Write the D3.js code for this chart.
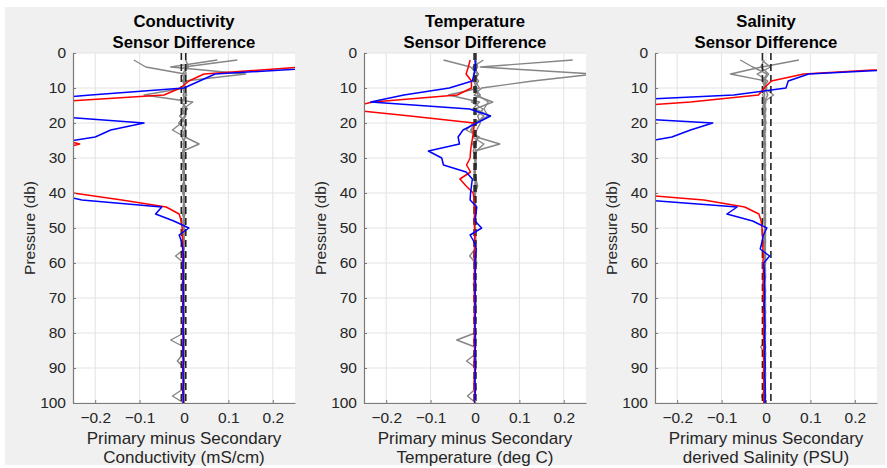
<!DOCTYPE html>
<html><head><meta charset="utf-8">
<script src="https://cdn.jsdelivr.net/npm/d3@7"></script>
<style>
body{margin:0;background:#fff;}
text{font-family:"Liberation Sans", Arial, Helvetica, sans-serif;}
</style>
</head><body>
<svg id="c" width="887" height="468"></svg>
<script>
// ---------- data ----------
const pressure = [2,4,6,8,10,12,14,16,18,20,22,24,26,28,30,32,34,36,38,40,42,44,46,48,50,52,54,56,58,60,62,64,66,68,70,72,74,76,78,80,82,84,86,88,90,92,94,96,98,100];
const xTicks = [-0.2,-0.1,0,0.1,0.2];
const yTicks = [0,10,20,30,40,50,60,70,80,90,100];
const titles = [["Conductivity","Sensor Difference"],["Temperature","Sensor Difference"],["Salinity","Sensor Difference"]];
const xLabels = [["Primary minus Secondary","Conductivity (mS/cm)"],["Primary minus Secondary","Temperature (deg C)"],["Primary minus Secondary","derived Salinity (PSU)"]];
const yLabel = "Pressure (db)";

// Conductivity
const condRed = [null,0.27,0.045,0.011,-0.008, -0.045,-0.3,-0.4,-0.4,-0.4, -0.4,-0.3,-0.235,-0.3,-0.4, -0.4,-0.4,-0.4,-0.4,-0.25, -0.14,-0.04,-0.011,-0.006,-0.004, -0.004,-0.003,-0.002,-0.003,-0.002, -0.003,-0.002,-0.003,-0.002,-0.002, -0.003,-0.002,-0.002,-0.003,-0.002, -0.002,-0.003,-0.002,-0.002,-0.003, -0.002,-0.002,-0.003,-0.002,-0.002];
const condBlue = [null,0.33,0.07,0.035,0.0, -0.21,-0.4,-0.4,-0.3,-0.09, -0.165,-0.2,-0.3,-0.4,-0.4, -0.4,-0.4,-0.4,-0.4,-0.3, -0.23,-0.05,-0.064,-0.023,0.011, -0.011,-0.005,-0.003,-0.001,-0.002, -0.002,-0.001,-0.002,-0.002,-0.001, -0.002,-0.002,-0.001,-0.002,-0.002, -0.001,-0.002,-0.002,-0.001,-0.002, -0.002,-0.001,-0.002,-0.002,-0.001];
const condGray1 = [-0.113,-0.086,0.002,-0.002,0.001, -0.09,0.02,-0.003,0.004,-0.006, -0.026,0.002,0.034,-0.002,0.0, -0.003,0.001,-0.002,0.003,-0.001, 0.0,-0.002,0.001,-0.002,0.0, -0.001,-0.002,0.001,-0.019,0.0, -0.002,0.001,-0.005,0.0,-0.002, 0.001,-0.001,0.0,-0.002,0.0, -0.03,0.0,-0.002,-0.015,0.0, -0.001,0.0,-0.002,-0.026,0.0];
const condGray2 = [0.075,-0.03,0.139,0.002,-0.003, 0.003,-0.004,0.004,-0.008,0.002, -0.004,0.003,-0.002,0.001,-0.003, 0.0,-0.002,0.002,-0.004,0.001, -0.002,0.0,0.002,-0.001,0.001, -0.002,0.0,-0.001,0.002,-0.001, 0.0,-0.003,0.001,-0.001,0.0, -0.002,0.001,0.0,-0.001,0.001, -0.002,0.0,0.001,-0.002,0.0, 0.001,-0.001,0.0,0.002,-0.001];
const condGray3 = [0.12,0.0,0.005,-0.003,0.004, -0.002,0.004,-0.005,0.002,-0.012, 0.004,-0.004,0.001,-0.003,0.002, -0.002,0.0,0.001,-0.003,0.001, -0.001,0.002,-0.002,0.0,0.001, -0.001,0.0,-0.002,0.001,0.0, -0.001,0.001,-0.002,0.0,0.001, -0.001,0.0,0.001,-0.002,0.0, 0.001,-0.001,0.0,0.001,-0.001, 0.0,0.001,-0.001,0.0,0.001];
const condGray4 = [0.004,0.01,-0.004,0.003,0.0, 0.006,-0.006,0.008,-0.01,0.005, 0.002,-0.005,0.003,0.0,-0.004, 0.002,-0.003,0.001,0.0,-0.003, 0.002,-0.001,-0.003,0.001,-0.002, 0.0,0.001,-0.003,0.0,-0.002, 0.001,-0.002,0.0,0.001,-0.003, 0.0,-0.001,0.001,-0.002,0.0, -0.001,0.001,-0.003,0.0,-0.002, 0.001,-0.002,0.0,-0.001,0.0];
const condLimits = [-0.006, 0.004];

// Temperature
const tempRed = [-0.011,-0.015,-0.02,-0.008,-0.008, -0.04,-0.23,-0.3,-0.146,-0.002, -0.003,-0.005,-0.008,-0.01,-0.011, -0.019,-0.01,-0.034,-0.02,-0.004, -0.002,-0.002,-0.001,-0.002,-0.001, 0.0,-0.002,-0.001,-0.002,-0.001, -0.001,-0.002,-0.001,-0.001,-0.002, -0.001,-0.001,-0.002,-0.001,-0.001, -0.002,-0.001,-0.001,-0.002,-0.001, -0.001,-0.002,-0.001,-0.001,-0.001];
const tempBlue = [0.0,0.001,-0.002,-0.006,-0.058, -0.16,-0.235,-0.012,0.035,0.004, -0.027,-0.038,-0.035,-0.105,-0.075, -0.071,-0.02,-0.006,-0.008,-0.01, -0.011,0.004,0.002,0.0,0.015, -0.011,-0.002,0.003,0.001,0.0, 0.001,0.0,0.001,0.0,0.001, 0.0,0.001,0.0,0.0,0.001, 0.0,0.001,0.0,0.0,0.001, 0.0,0.0,0.001,0.0,0.0];
const tempGray1 = [0.22,0.012,0.27,0.13,0.015, -0.002,0.04,0.0,0.034,0.0, -0.01,0.003,0.056,0.0,0.002, -0.001,0.001,0.0,0.002,-0.001, 0.001,0.0,-0.001,0.001,0.0, -0.001,0.001,0.0,-0.012,0.001, 0.0,0.002,-0.004,0.001,0.0, 0.003,-0.001,0.0,0.001,0.0, -0.041,0.0,0.001,-0.019,0.002, 0.0,-0.001,0.001,-0.017,0.002];
const tempGray2 = [-0.071,-0.01,0.005,0.0,0.01, -0.06,0.01,-0.005,0.02,0.004, -0.008,0.005,0.002,-0.004,0.003, 0.001,-0.002,0.002,0.006,0.001, 0.0,0.002,-0.001,0.001,0.0, 0.002,0.001,-0.001,0.002,0.004, 0.0,0.001,0.002,0.0,-0.001, 0.001,0.0,0.002,0.0,0.001, 0.002,0.0,0.001,0.003,0.0, 0.001,0.0,0.002,0.0,0.001];
const tempGray3 = [0.019,-0.005,0.008,-0.003,0.004, 0.006,0.03,0.02,0.03,-0.004, -0.02,0.01,-0.006,0.004,-0.002, 0.003,0.0,0.002,-0.001,0.001, 0.0,-0.001,0.002,0.0,0.001, -0.001,0.0,0.001,-0.002,0.0, 0.001,-0.001,0.0,0.001,0.0, -0.001,0.001,0.0,-0.001,0.001, 0.0,0.001,-0.002,0.0,0.001, 0.0,-0.001,0.001,0.0,0.001];
const tempGray4 = [0.002,0.006,-0.004,0.008,-0.003, 0.012,-0.008,0.018,0.006,0.012, 0.004,-0.006,0.02,0.003,0.0, 0.002,-0.002,0.001,0.003,0.0, -0.001,0.002,0.0,-0.002,0.001, 0.0,0.002,-0.001,0.0,0.002, -0.001,0.0,0.001,-0.002,0.001, 0.0,0.002,-0.001,0.0,0.001, -0.002,0.001,0.0,0.001,-0.001, 0.002,0.0,-0.001,0.001,0.0];
const tempLimits = [-0.002, 0.002];

// Salinity
const salRed = [null,0.35,0.085,0.012,-0.004, -0.017,-0.17,-0.4,-0.4,-0.4, -0.4,-0.4,-0.4,-0.4,-0.4, -0.4,-0.4,-0.4,-0.4,-0.33, -0.14,-0.048,-0.016,-0.011,-0.009, -0.008,-0.007,-0.007,-0.006,-0.007, -0.006,-0.006,-0.007,-0.006,-0.006, -0.005,-0.006,-0.006,-0.005,-0.006, -0.005,-0.005,-0.006,-0.005,-0.005, -0.006,-0.005,-0.005,-0.005,-0.005];
const salBlue = [null,0.4,0.096,0.05,0.045, -0.073,-0.4,-0.4,-0.4,-0.12, -0.17,-0.212,-0.3,-0.4,-0.4, -0.4,-0.4,-0.4,-0.4,-0.4, -0.27,-0.065,-0.088,-0.03,0.002, -0.006,-0.009,-0.013,0.008,-0.005, -0.004,-0.003,-0.004,-0.003,-0.003, -0.004,-0.003,-0.003,-0.002,-0.003, -0.003,-0.002,-0.003,-0.002,-0.002, -0.003,-0.002,-0.002,-0.002,-0.002];
const salGray1 = [0.074,-0.01,-0.08,0.0,-0.004, 0.017,-0.005,-0.002,-0.006,-0.001, -0.004,-0.002,-0.003,-0.005,-0.002, -0.003,-0.002,-0.004,-0.003,-0.002, -0.003,-0.002,-0.004,-0.003,-0.002, -0.003,-0.004,-0.002,-0.003,-0.002, -0.004,-0.003,-0.002,-0.003,-0.002, -0.004,-0.003,-0.002,-0.003,-0.004, -0.002,-0.012,-0.003,-0.002,-0.003, -0.004,-0.002,-0.003,-0.01,-0.003];
const salGray2 = [-0.058,-0.03,0.002,-0.008,-0.002, 0.004,-0.004,-0.009,-0.003,0.0, -0.006,-0.002,-0.005,-0.001,-0.003, -0.004,-0.001,-0.003,-0.002,-0.004, -0.001,-0.003,-0.002,-0.001,-0.003, -0.002,-0.004,-0.002,-0.001,-0.003, -0.002,-0.001,-0.003,-0.002,-0.004, -0.001,-0.002,-0.003,-0.001,-0.002, -0.003,-0.002,-0.001,-0.003,-0.002, -0.001,-0.003,-0.002,-0.001,-0.002];
const salGray3 = [-0.01,0.01,-0.02,0.004,-0.005, -0.003,-0.006,0.0,-0.004,-0.002, -0.001,-0.005,-0.002,-0.003,-0.004, -0.001,-0.003,-0.002,-0.001,-0.003, -0.002,-0.004,-0.001,-0.002,-0.003, -0.002,-0.001,-0.003,-0.002,-0.001, -0.003,-0.004,-0.002,-0.001,-0.003, -0.002,-0.001,-0.002,-0.003,-0.001, -0.002,-0.003,-0.001,-0.002,-0.003, -0.001,-0.002,-0.003,-0.001,-0.002];
const salGray4 = [-0.004,-0.012,0.006,-0.006,0.002, -0.008,0.0,-0.006,-0.001,-0.005, -0.002,-0.006,-0.001,-0.004,-0.002, -0.005,-0.003,-0.001,-0.004,-0.002, -0.004,-0.001,-0.003,-0.004,-0.002, -0.001,-0.003,-0.004,-0.002,-0.004, -0.001,-0.002,-0.004,-0.003,-0.001, -0.003,-0.004,-0.001,-0.002,-0.004, -0.003,-0.001,-0.004,-0.003,-0.001, -0.003,-0.004,-0.001,-0.003,-0.004];
const salLimits = [-0.008, 0.011];

const panels = [
  {gray:[condGray1,condGray2,condGray3,condGray4], red:condRed, blue:condBlue, limits:condLimits},
  {gray:[tempGray1,tempGray2,tempGray3,tempGray4], red:tempRed, blue:tempBlue, limits:tempLimits},
  {gray:[salGray1,salGray2,salGray3,salGray4], red:salRed, blue:salBlue, limits:salLimits}
];

// ---------- drawing ----------
const svg = d3.select("#c");
svg.append("rect").attr("x",5).attr("y",7).attr("width",880).attr("height",458).attr("fill","#f0f0f0");

const lefts = [73,364,655], pw = 222, plotTop = 53, ph = 350;
const fmt = d => d === 0 ? "0" : d3.format(".1f")(d);

panels.forEach((pd, i) => {
  const x = d3.scaleLinear().domain([-0.25,0.25]).range([0,pw]);
  const y = d3.scaleLinear().domain([0,100]).range([0,ph]);
  const g = svg.append("g").attr("transform",`translate(${lefts[i]},${plotTop})`);
  g.append("rect").attr("width",pw).attr("height",ph).attr("fill","#fff");

  // grid
  g.append("g").selectAll("line").data(xTicks).join("line")
    .attr("x1",d=>x(d)).attr("x2",d=>x(d)).attr("y1",0).attr("y2",ph)
    .attr("stroke","#e3e3e3").attr("stroke-width",1);
  g.append("g").selectAll("line").data(yTicks).join("line")
    .attr("x1",0).attr("x2",pw).attr("y1",d=>y(d)).attr("y2",d=>y(d))
    .attr("stroke","#e3e3e3").attr("stroke-width",1);

  const clipId = "clip"+i;
  g.append("clipPath").attr("id",clipId).append("rect").attr("width",pw).attr("height",ph);
  const plot = g.append("g").attr("clip-path",`url(#${clipId})`);

  const line = d3.line()
    .defined(d => d[0] !== null)
    .x(d => x(d[0])).y(d => y(d[1]));
  const pts = arr => arr.map((v,k) => [v, pressure[k]]);

  pd.gray.forEach(s => {
    plot.append("path").attr("d", line(pts(s))).attr("fill","none")
      .attr("stroke","#858585").attr("stroke-width",1.4).attr("stroke-linejoin","round");
  });
  pd.limits.forEach(v => {
    plot.append("line").attr("x1",x(v)).attr("x2",x(v)).attr("y1",0).attr("y2",ph)
      .attr("stroke","#222").attr("stroke-width",1.6).attr("stroke-dasharray","7,4");
  });
  plot.append("path").attr("d", line(pts(pd.red))).attr("fill","none")
    .attr("stroke","#ff0000").attr("stroke-width",1.5).attr("stroke-linejoin","round");
  plot.append("path").attr("d", line(pts(pd.blue))).attr("fill","none")
    .attr("stroke","#0000ff").attr("stroke-width",1.5).attr("stroke-linejoin","round");

  // axes
  const xa = g.append("g").attr("transform",`translate(0,${ph})`)
    .call(d3.axisBottom(x).tickValues(xTicks).tickFormat(fmt).tickSizeInner(-3).tickSizeOuter(0).tickPadding(9));
  const ya = g.append("g")
    .call(d3.axisLeft(y).tickValues(yTicks).tickSizeInner(-3).tickSizeOuter(0).tickPadding(7));
  [xa, ya].forEach(a => {
    a.select(".domain").attr("stroke","#7a7a7a").attr("stroke-width",1.2);
    a.selectAll(".tick line").attr("stroke","#7a7a7a");
    a.selectAll(".tick text").attr("fill","#262626").attr("font-size",15.5)
      .attr("font-family","'Liberation Sans', Arial, sans-serif");
  });

  // titles
  const cx = pw/2;
  titles[i].forEach((t,k) => {
    g.append("text").attr("x",cx).attr("y",[-26,-5][k]).attr("text-anchor","middle")
      .attr("font-size",16.7).attr("font-weight","bold").attr("fill","#000").text(t);
  });
  xLabels[i].forEach((t,k) => {
    g.append("text").attr("x",cx).attr("y",[ph+41,ph+59.7][k]).attr("text-anchor","middle")
      .attr("font-size",17).attr("fill","#262626").text(t);
  });
  g.append("text").attr("transform",`translate(-38.5,${ph/2}) rotate(-90)`)
    .attr("text-anchor","middle").attr("font-size",15.5).attr("fill","#262626").text(yLabel);
});
</script>
</body></html>
